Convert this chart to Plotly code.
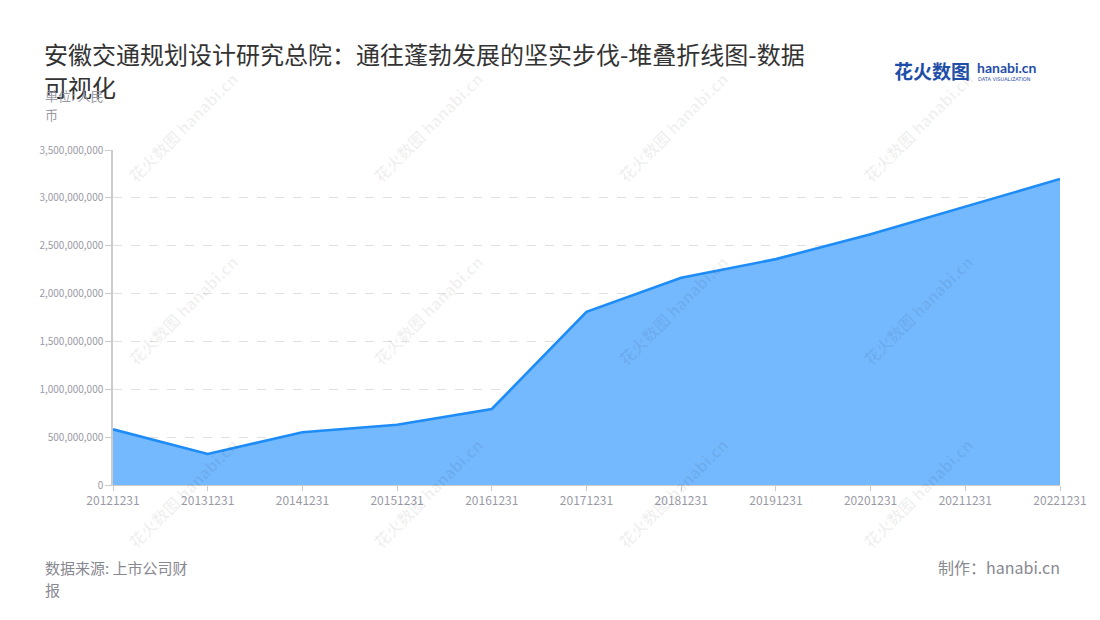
import plotly.graph_objects as go

# 安徽交通规划设计研究总院 - 营业收入(单位: 人民币)
dates = [
    "20121231", "20131231", "20141231", "20151231", "20161231", "20171231",
    "20181231", "20191231", "20201231", "20211231", "20221231",
]
values = [
    582_000_000, 324_000_000, 551_000_000, 630_000_000, 794_000_000, 1_810_000_000,
    2_165_000_000, 2_360_000_000, 2_620_000_000, 2_910_000_000, 3_197_000_000,
]

FONT = "Noto Sans CJK SC"
GRAY = "#9a9aa6"

# the page body adds an 8px margin, so margins are given 8px short
OFF = 8
PLOT_L, PLOT_R, PLOT_T, PLOT_B = 113, 1060, 150, 485  # window pixels


def paper(px, py):
    """window pixel -> paper coords of the plot area"""
    return (px - PLOT_L) / (PLOT_R - PLOT_L), (PLOT_B - py) / (PLOT_B - PLOT_T)


def note(px, py, text, size, color, anchor="left", family=FONT, angle=0):
    x, y = paper(px, py)
    return dict(x=x, y=y, xref="paper", yref="paper", text=text, showarrow=False,
                xanchor=anchor, yanchor="middle", textangle=angle,
                font=dict(family=family, size=size, color=color))


fig = go.Figure()
fig.add_trace(
    go.Scatter(
        x=dates,
        y=values,
        mode="lines",
        line=dict(color="#1e8cf7", width=2.6),
        fill="tozeroy",
        fillcolor="#74b8fd",
        hoverinfo="x+y",
        showlegend=False,
    )
)

annotations = []

# watermark grid
wm_cols = [183, 428, 673, 918]
wm_rows = [127, 310, 493]
for cx in wm_cols:
    for cy in wm_rows:
        annotations.append(note(cx, cy, "<b>花火数图</b> <b>hanabi.cn</b>", 16,
                                "rgba(0,0,0,0.06)", anchor="center", angle=-45))

title_lines = ["安徽交通规划设计研究总院：通往蓬勃发展的坚实步伐-堆叠折线图-数据", "可视化"]
for i, line in enumerate(title_lines):
    annotations.append(note(42, 54 + i * 33, line, 24, "#333333"))

for i, line in enumerate(["单位: 人民", "币"]):
    annotations.append(note(43, 96 + i * 18, line, 13, GRAY))

for i, line in enumerate(["数据来源: 上市公司财", "报"]):
    annotations.append(note(43, 567 + i * 22, line, 15, "#888890"))

annotations.append(note(1062, 567, "制作：hanabi.cn", 16, "#888890", anchor="right"))

# logo
annotations.append(note(892, 71, "<b>花火数图</b>", 19, "#1f4ea8"))
annotations.append(note(975, 68, "<b>hanabi.cn</b>", 14, "#1f4ea8", family="Lato"))
annotations.append(note(976, 79, "DATA VISUALIZATION", 5, "#1f4ea8", family="DejaVu Sans"))

fig.update_layout(
    width=1100,
    height=620,
    margin=dict(l=PLOT_L - OFF, r=1100 - (PLOT_R - OFF), t=PLOT_T - OFF, b=620 - (PLOT_B - OFF)),
    paper_bgcolor="white",
    plot_bgcolor="white",
    font=dict(family=FONT, size=11, color=GRAY),
    annotations=annotations,
    xaxis=dict(
        type="category",
        range=[0, len(dates) - 1],
        showgrid=False,
        showline=True,
        linecolor="#cccccc",
        linewidth=1,
        ticks="outside",
        ticklen=5,
        tickcolor="#cccccc",
        tickfont=dict(size=12, color=GRAY),
        zeroline=False,
    ),
    yaxis=dict(
        range=[0, 3_500_000_000],
        dtick=500_000_000,
        tickformat=",d",
        showgrid=True,
        gridcolor="#e0e0e0",
        griddash="dash",
        showline=True,
        linecolor="#cccccc",
        linewidth=1.5,
        ticks="outside",
        ticklen=6,
        tickcolor="#cccccc",
        tickfont=dict(size=10, color=GRAY),
        zeroline=False,
    ),
)

fig.write_html("out.html")
